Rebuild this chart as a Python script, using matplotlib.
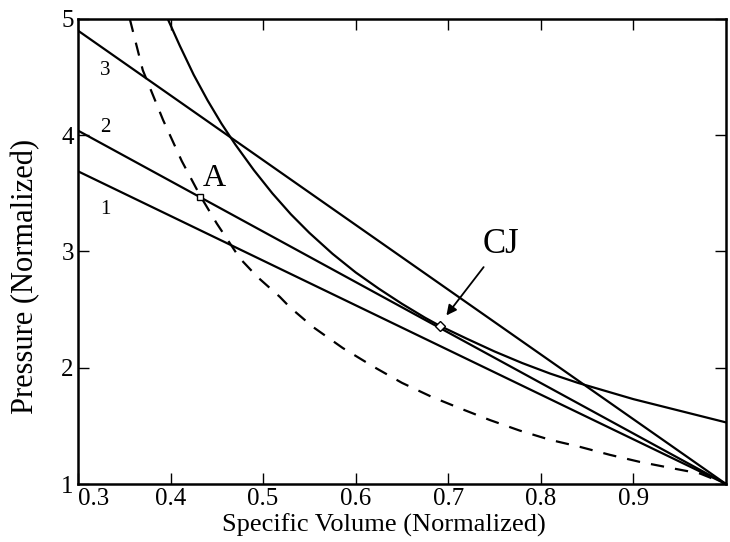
import matplotlib.pyplot as plt

# Rayleigh lines, all through the initial state (1, 1)
ray_v = [0.30, 1.0]
ray1_p = [3.69, 1.0]
ray2_p = [4.04, 1.0]
ray3_p = [4.90, 1.0]

# detonation Hugoniot (solid)
hug_v = [0.397, 0.41, 0.425, 0.44, 0.455, 0.47, 0.49, 0.51, 0.53, 0.55, 0.575,
         0.60, 0.625, 0.65, 0.675, 0.691, 0.72, 0.75, 0.78, 0.81, 0.84, 0.87,
         0.90, 0.93, 0.96, 1.0]
hug_p = [5.00, 4.77, 4.52, 4.30, 4.10, 3.92, 3.70, 3.50, 3.32, 3.16, 2.98,
         2.82, 2.68, 2.55, 2.43, 2.36, 2.25, 2.14, 2.04, 1.95, 1.87, 1.80,
         1.73, 1.67, 1.61, 1.53]

# shock Hugoniot (dashed)
shk_v = [0.356, 0.370, 0.392, 0.412, 0.432, 0.450, 0.475, 0.494, 0.518, 0.529, 0.554,
         0.586, 0.619, 0.650, 0.682, 0.713, 0.745, 0.777, 0.810, 0.842, 0.875,
         0.907, 0.939, 0.972, 1.0]
shk_p = [5.00, 4.56, 4.13, 3.78, 3.48, 3.24, 2.94, 2.78, 2.61, 2.52, 2.35,
         2.17, 2.01, 1.87, 1.75, 1.65, 1.55, 1.46, 1.38, 1.32, 1.25,
         1.19, 1.14, 1.09, 1.0]

pt_A = (0.432, 3.47)
pt_CJ = (0.691, 2.36)

xticks = [0.3, 0.4, 0.5, 0.6, 0.7, 0.8, 0.9]
yticks = [1, 2, 3, 4, 5]

plt.rcParams['font.family'] = ['Liberation Serif', 'DejaVu Serif']

fig = plt.figure(figsize=(7.3, 5.42), dpi=100)
ax = fig.add_axes([0.1068, 0.107, 0.8877, 0.858])

ax.plot(ray_v, ray1_p, color='black', lw=1.6)
ax.plot(ray_v, ray2_p, color='black', lw=1.6)
ax.plot(ray_v, ray3_p, color='black', lw=1.6)
ax.plot(hug_v, hug_p, color='black', lw=1.6)
ax.plot(shk_v, shk_p, color='black', lw=1.6, dashes=(6, 5))

ax.plot(*pt_A, marker='s', ms=5, mfc='white', mec='black', mew=1)
ax.plot(*pt_CJ, marker='D', ms=5, mfc='white', mec='black', mew=1)

ax.text(0.329, 4.56, '3', fontsize=15, ha='center', va='center')
ax.text(0.330, 4.07, '2', fontsize=15, ha='center', va='center')
ax.text(0.330, 3.36, '1', fontsize=15, ha='center', va='center')
ax.text(0.447, 3.63, 'A', fontsize=23, ha='center', va='center')
ax.annotate('CJ', xy=(0.698, 2.45), xytext=(0.757, 3.06), fontsize=25,
            ha='center', va='center',
            arrowprops=dict(arrowstyle='-|>', color='black', lw=1.3,
                            mutation_scale=15, shrinkA=3, shrinkB=0))

ax.set_xlim(0.3, 1.0)
ax.set_ylim(1, 5)
ax.set_xticks(xticks)
ax.set_yticks(yticks)
ax.set_xticklabels([str(t) for t in xticks], fontsize=18)
ax.set_yticklabels([str(t) for t in yticks], fontsize=18)
ax.get_xticklabels()[0].set_horizontalalignment('left')
ax.tick_params(direction='in', length=8, width=1, top=True, right=True, pad=3)
for s in ax.spines.values():
    s.set_linewidth(1.8)

ax.set_xlabel('Specific Volume (Normalized)', fontsize=19)
ax.xaxis.set_label_coords(0.472, -0.064)
ax.set_ylabel('Pressure (Normalized)', fontsize=22)
ax.yaxis.set_label_coords(-0.058, 0.447)

fig.savefig('out.png', dpi=100)
